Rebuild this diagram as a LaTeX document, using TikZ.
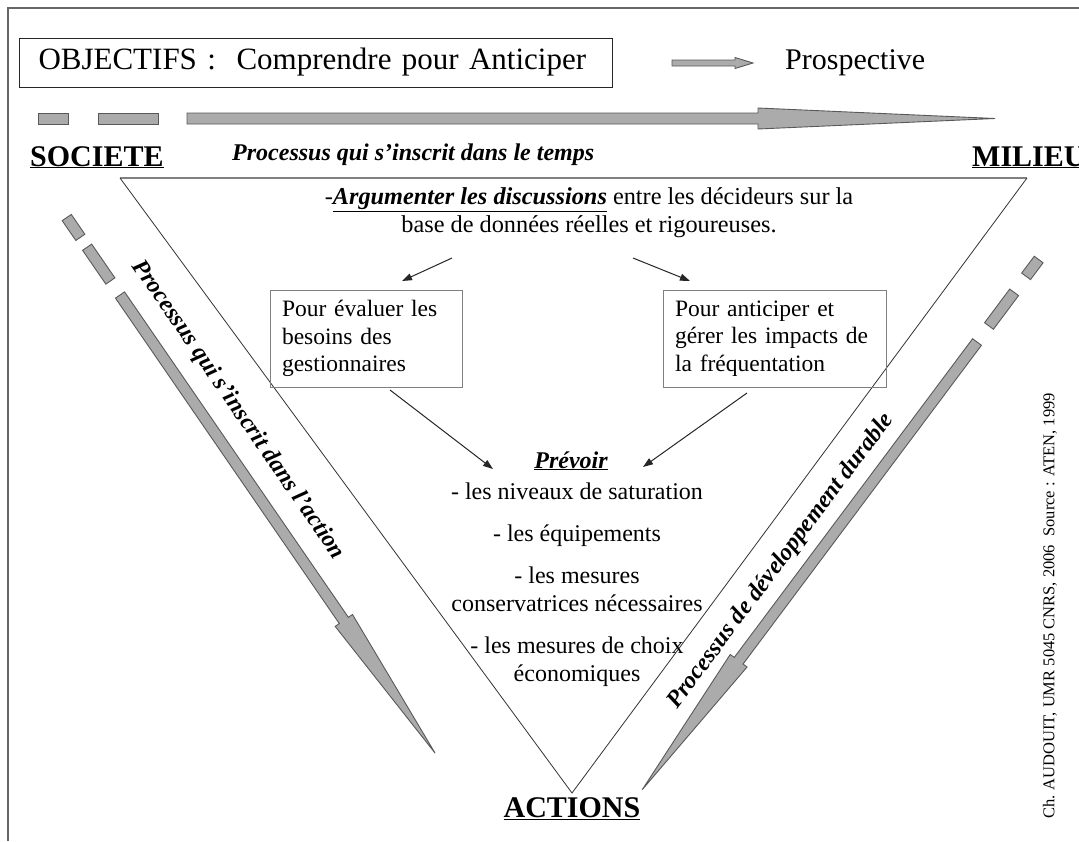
\documentclass[tikz,border=0pt]{standalone}
\usepackage{fontspec}
\setmainfont{Liberation Serif}
\usetikzlibrary{arrows.meta,calc}
\newcommand{\fs}[2]{\fontsize{#1}{#2}\selectfont}
\tikzset{
  blk/.style={fill=black!33, draw=black!65, line width=0.9pt, line join=miter},
  conn/.style={draw=black!85, line width=1pt, -{Triangle[length=10pt,width=7pt]}},
  gbox/.style={draw=black!50, line width=1pt, align=left, inner xsep=12pt, inner ysep=0pt, minimum height=97pt},
  bigword/.style={font=\fs{30}{30}\bfseries},
  slant/.style={font=\fs{24}{24}\bfseries\itshape},
  body/.style={font=\fs{24}{24}},
}
\newcommand{\barrow}[6]{%
  \begin{scope}[shift={#1}, rotate=#2]
    \path[blk] (0,#4) -- ({#3-#6},#4) -- ({#3-#6},#5) -- (#3,0) -- ({#3-#6},-#5) -- ({#3-#6},-#4) -- (0,-#4) -- cycle;
  \end{scope}}
\newcommand{\bdash}[5]{%
  \begin{scope}[shift={#1}, rotate=#2]
    \path[blk] (#3,-#5) rectangle (#4,#5);
  \end{scope}}
\begin{document}
\begin{tikzpicture}[x=1pt, y=-1pt]
\useasboundingbox (0,0) rectangle (1079,841);
\clip (0,0) rectangle (1079,841);
\fill[white] (0,0) rectangle (1079,841);
% frame
\draw[line width=1.5pt, draw=black!60] (8,841) -- (8,8) -- (1079,8);

% objectives box
\node[draw=black!85, line width=1pt, anchor=west, text width=555pt, inner xsep=19pt, minimum height=49pt, align=left, font=\fs{31}{31}] (obj) at (19,62.5) {OBJECTIFS :\ \ Comprendre pour Anticiper};
\barrow{(672,63)}{0}{81}{3}{5.5}{18}
\node[anchor=west, inner sep=0pt, font=\fs{30}{30}] (prosp) at (785,63) {Prospective};

% top time arrow
\path[blk] (38,113) rectangle (68,124);
\path[blk] (98,113) rectangle (158,124);
\barrow{(187,118.5)}{0}{808}{5.5}{10.5}{237}

\node[bigword, anchor=base west, inner sep=0pt] (soc) at (30,166) {\underline{SOCIETE}};
\node[bigword, anchor=base west, inner sep=0pt] (mil) at (972,166) {\underline{MILIEU}};
\node[bigword, anchor=base, inner sep=0pt] (act) at (572,817) {\underline{ACTIONS}};
\node[slant, anchor=base west, inner sep=0pt] (temps) at (232,160) {Processus qui s’inscrit dans le temps};

% triangle
\coordinate (T1) at (120,178);
\coordinate (T2) at (1027,178);
\coordinate (T3) at (572,793);
\draw[line width=1.8pt, draw=black!50] (T1) -- (T2);
\draw[line width=0.8pt, draw=black!80] (T1) -- (T3) -- (T2);

% left diagonal arrow
\bdash{(120,295)}{-55.48}{-94}{-70}{5.5}
\bdash{(120,295)}{-55.48}{-58}{-17}{5.5}
\barrow{(120,295)}{-55.48}{556}{5.5}{10.5}{161}
\node[slant, rotate=-55.48] (lab1) at (238,410) {Processus qui s’inscrit dans l’action};

% right diagonal arrow
\bdash{(977,342)}{-126.79}{-103}{-82}{5.5}
\bdash{(977,342)}{-126.79}{-62}{-20}{5.5}
\barrow{(977,342)}{-126.79}{559}{5.5}{10.5}{161}
\node[slant, rotate=53.21] (lab2) at (781,561) {Processus de développement durable};

% argument text
\node[align=center, font=\fs{24.3}{28}] (arg) at (589,213) {-\underline{\textbf{\textit{Argumenter les discussions}}} entre les décideurs sur la\\base de données réelles et rigoureuses.};

% boxes
\node[gbox, text width=168pt, font=\fs{23.5}{27.5}] (b1) at (366,338.5) {Pour évaluer les\\besoins des\\gestionnaires};
\node[gbox, text width=199pt, font=\fs{23.5}{27.5}] (b2) at (774.5,338.5) {Pour anticiper et\\gérer les impacts de\\la fréquentation};

% prevoir list
\node[slant, anchor=base, inner sep=0pt] (prev) at (571,468) {\underline{Prévoir}};
\node[body, anchor=base, inner sep=0pt] (l1) at (577,499) {- les niveaux de saturation};
\node[body, anchor=base, inner sep=0pt] (l2) at (577,541) {- les équipements};
\node[body, anchor=base, inner sep=0pt] (l3) at (577,583) {- les mesures};
\node[body, anchor=base, inner sep=0pt] (l4) at (577,611) {conservatrices nécessaires};
\node[body, anchor=base, inner sep=0pt] (l5) at (577,653) {- les mesures de choix};
\node[body, anchor=base, inner sep=0pt] (l6) at (577,681) {économiques};

% connectors
\coordinate (a1s) at (452,258);
\coordinate (a1e) at (402,281);
\coordinate (a2s) at (633,258);
\coordinate (a2e) at (690,281);
\coordinate (a3s) at (390,390);
\coordinate (a3e) at (493,469);
\coordinate (a4s) at (747,393);
\coordinate (a4e) at (643,467);
\draw[conn] (a1s) -- (a1e);
\draw[conn] (a2s) -- (a2e);
\draw[conn] (a3s) -- (a3e);
\draw[conn] (a4s) -- (a4e);

% source
\node[rotate=90, font=\fs{16.5}{16.5}, inner sep=0pt] (src) at (1050,606) {Ch. AUDOUIT, UMR 5045 CNRS, 2006\ \ Source : ATEN, 1999};
\end{tikzpicture}
\end{document}
